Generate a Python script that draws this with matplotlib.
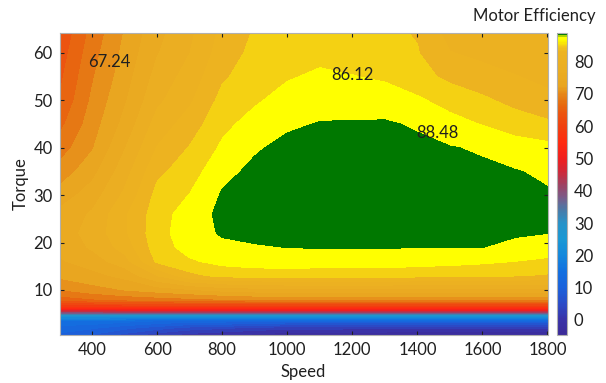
import numpy as np
import matplotlib
matplotlib.use("Agg")
import matplotlib.pyplot as plt
from matplotlib.colors import LinearSegmentedColormap, Normalize
from matplotlib.cm import ScalarMappable

plt.rcParams["font.family"] = ["Lato", "DejaVu Sans"]

# motor efficiency map
speed = [300, 400, 500, 600, 700, 800, 900, 1000, 1100, 1200,
         1300, 1400, 1500, 1600, 1700, 1800]
torque = [0.5, 2, 3.5, 4.5, 5.5, 6.5, 8, 10, 13, 16, 19, 22, 26, 30,
          35, 40, 45, 50, 55, 60, 64.2]

# one list per speed column, values from low to high torque
eff_300 = [10, 12, 15, 24, 44, 58, 66, 69.5, 72.5, 74, 75, 75.5, 75, 73, 70.5, 68.4, 66.5, 65, 64.3, 63.5, 62.8]
eff_400 = [8, 11, 15, 24, 44, 58, 67, 71, 73.5, 75.5, 77, 77.5, 77, 75.5, 73.5, 71.7, 70.8, 70, 69.3, 68.6, 68]
eff_500 = [5, 9, 14, 24, 45, 58, 68, 72, 75, 78, 80, 81, 81, 79.5, 78, 76.5, 75, 74, 73.2, 72.6, 72.1]
eff_600 = [2, 7, 13, 23, 45, 58, 68.5, 73, 79, 84.2, 85, 85.2, 85, 84.5, 83.2, 81.5, 80, 78.5, 77.5, 76.5, 76]
eff_700 = [0, 5, 12, 23, 45, 58, 69, 74, 83, 85.8, 87, 87.5, 87.3, 86.2, 85, 83.9, 82.5, 81, 80, 79, 78.5]
eff_800 = [-1, 4, 12, 23, 45, 58, 69.5, 75, 84.5, 86.8, 88, 88.7, 89, 88.7, 87.8, 86.5, 85.5, 84.5, 83.4, 82.5, 82]
eff_900 = [-2, 3, 12, 23, 45, 58, 70, 75.5, 84.8, 87.2, 88.3, 89, 89.4, 89.4, 89, 88.2, 87, 85.8, 85, 84.4, 84]
eff_1000 = [-3, 2, 11, 23, 45, 58, 70.5, 76, 84.8, 87.3, 88.5, 89.2, 89.6, 89.8, 89.6, 89.1, 88.1, 87, 85.9, 85.2, 84.8]
eff_1100 = [-3, 2, 11, 23, 45, 58, 70.5, 76, 84.8, 87.2, 88.6, 89.2, 89.6, 89.9, 89.8, 89.4, 88.6, 87.5, 86.5, 85.5, 84.8]
eff_1200 = [-3.5, 2, 11, 23, 45, 58, 70.5, 76, 84.8, 87.2, 88.6, 89.2, 89.6, 89.9, 89.8, 89.4, 88.7, 87.3, 86.2, 85.2, 84.6]
eff_1300 = [-3.5, 2, 11, 23, 45, 58, 70.5, 76, 84.8, 87.2, 88.6, 89.2, 89.6, 89.9, 89.8, 89.4, 88.75, 87.2, 85.8, 84.8, 84.2]
eff_1400 = [-4, 2, 11, 23, 45, 58, 70.5, 76, 84.5, 87, 88.5, 89.1, 89.5, 89.6, 89.4, 89, 88.2, 86.5, 84.6, 83.9, 83.6]
eff_1500 = [-4, 2, 11, 23, 45, 58, 70.5, 76, 84.4, 86.8, 88.5, 89, 89.4, 89.5, 89.2, 88.6, 87, 85.2, 83.2, 81.5, 80.5]
eff_1600 = [-4, 2, 11, 23, 45, 58, 70.5, 76, 84.2, 86.5, 88.5, 88.9, 89.2, 89.3, 88.9, 88.2, 86, 84.2, 82.3, 80.8, 80]
eff_1700 = [-4, 2, 11, 23, 45, 58, 70.5, 76, 83.9, 86.1, 88, 88.7, 89, 89, 88.6, 87.2, 85, 83, 81.5, 80.3, 79.8]
eff_1800 = [-4, 2, 11, 23, 45, 58, 70.5, 76, 83.5, 85.6, 87.5, 88.5, 88.8, 88.7, 88.1, 86.8, 84.2, 82, 80.8, 80, 79.5]

# contour labels shown on the map
label_vals = ["67.24", "86.12", "88.48"]
label_speed = [452, 1199, 1461]
label_torque = [58.1, 55.4, 43.1]

cbar_ticks = [0, 10, 20, 30, 40, 50, 60, 70, 80]
vmin, vmax = -4.7, 88.9

eff = np.array([eff_300, eff_400, eff_500, eff_600, eff_700, eff_800, eff_900,
                eff_1000, eff_1100, eff_1200, eff_1300, eff_1400, eff_1500,
                eff_1600, eff_1700, eff_1800]).T

anchors = [
    (-4.7, "#3b2a98"), (0, "#3a33a8"), (5, "#2a4cc8"), (10, "#1a62dc"),
    (15, "#1270e0"), (20, "#1488dc"), (25, "#1a98d4"), (30, "#2892c8"),
    (34, "#4a7aa8"), (38, "#7a5a88"), (42, "#a04060"), (46, "#d02838"),
    (50, "#f01e1e"), (55, "#ff2a10"), (60, "#f04010"), (64, "#ec5410"),
    (67, "#e66c10"), (70, "#e68618"), (72.5, "#e9a520"), (78, "#ebae22"),
    (83.5, "#edb420"), (84.9, "#f2c819"), (86.3, "#fbf000"), (87.2, "#ffff00"),
    (88.1, "#ffff00"), (88.3, "#007800"), (88.9, "#007800"),
]
cmap = LinearSegmentedColormap.from_list(
    "motor", [((v - vmin) / (vmax - vmin), c) for v, c in anchors])

levels = np.append(88.48 - 2.36 * np.arange(40, -1, -1), 91)

fig = plt.figure(figsize=(6.06, 3.83), dpi=100)
ax = fig.add_axes([59.5 / 606, 48 / 383, 488 / 606, 302 / 383])
ax.contourf(speed, torque, eff, levels=levels, cmap=cmap, vmin=vmin, vmax=vmax)

for txt, sx, ty in zip(label_vals, label_speed, label_torque):
    ax.text(sx, ty, txt, ha="center", va="center", fontsize=12, color="#202020")

ax.set_xlim(300, 1800)
ax.set_ylim(0.5, 64.2)
ax.set_xticks([400, 600, 800, 1000, 1200, 1400, 1600, 1800])
ax.set_yticks([10, 20, 30, 40, 50, 60])
ax.tick_params(direction="in", top=True, right=True, length=3, width=0.8,
               labelsize=12, colors="#202020", pad=5)
for s in ax.spines.values():
    s.set_color("#b0b0b0")
    s.set_linewidth(0.8)
ax.set_xlabel("Speed", fontsize=12, color="#202020")
ax.set_ylabel("Torque", fontsize=12, color="#202020")
ax.xaxis.set_label_coords(0.5, -0.095)
ax.yaxis.set_label_coords(-0.064, 0.5)

cax = fig.add_axes([557 / 606, 48 / 383, 10 / 606, 302 / 383])
cb = fig.colorbar(ScalarMappable(norm=Normalize(vmin, vmax), cmap=cmap), cax=cax)
cb.set_ticks(cbar_ticks)
cb.ax.tick_params(length=0, labelsize=12, colors="#202020", pad=5)
cb.outline.set_edgecolor("#b0b0b0")
cb.outline.set_linewidth(0.8)
fig.text(534 / 606, 1 - 16 / 383, "Motor Efficiency", ha="center", va="center",
         fontsize=12, color="#202020")

fig.savefig("out.png", dpi=100)
